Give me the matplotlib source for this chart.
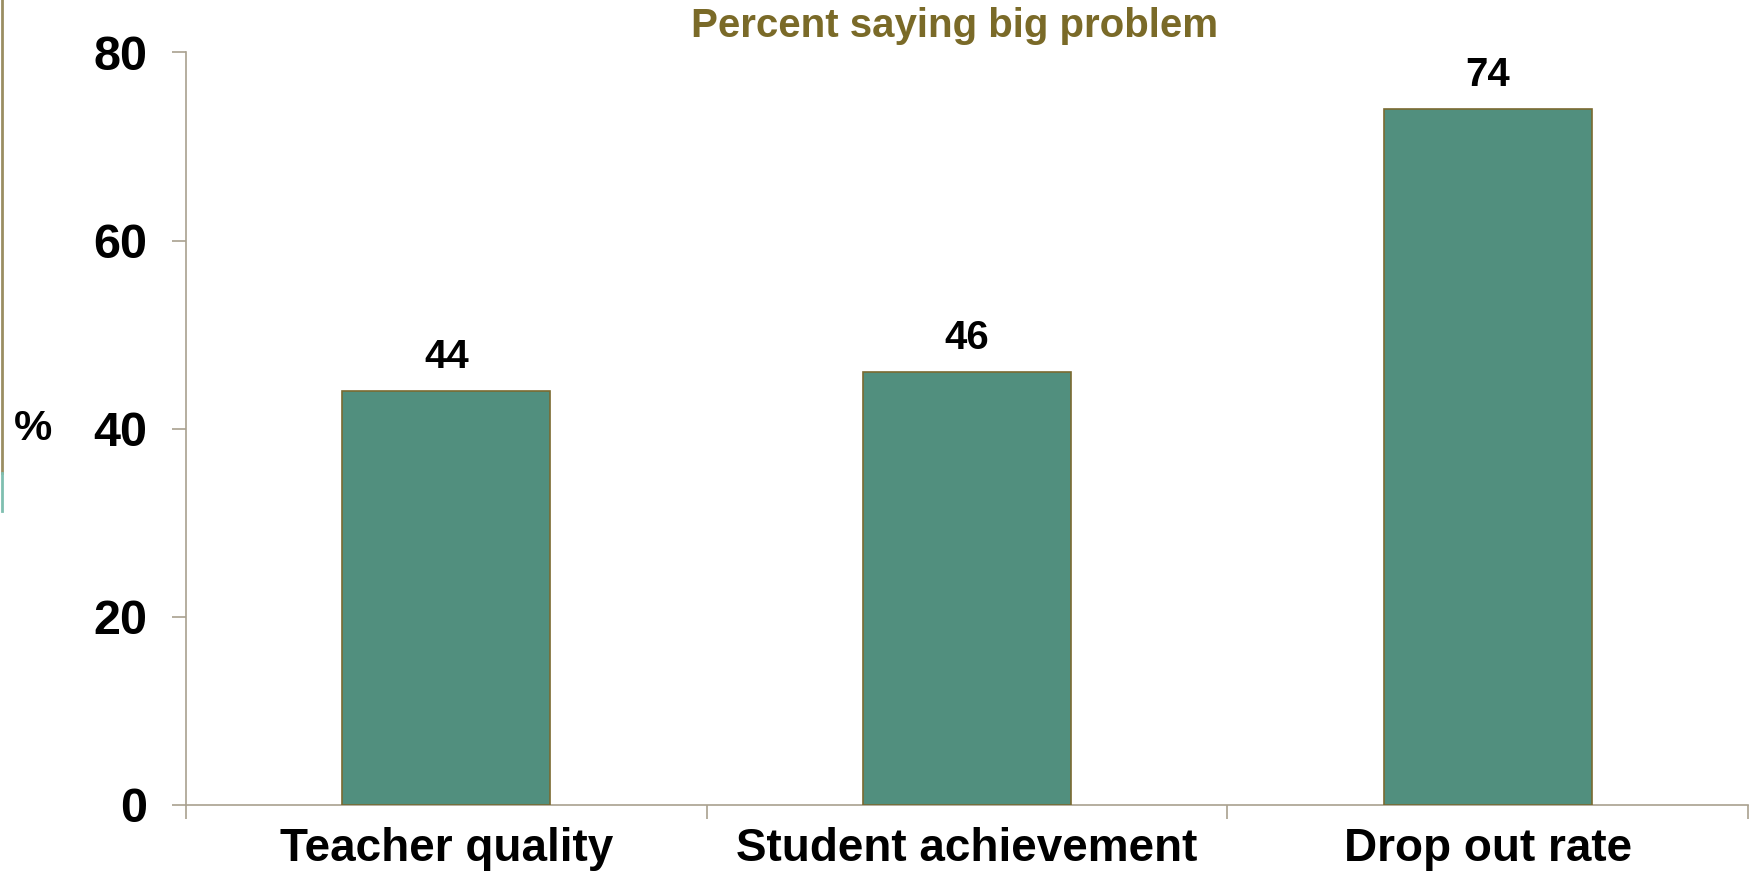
import matplotlib
matplotlib.use("Agg")
import matplotlib.pyplot as plt
from matplotlib.lines import Line2D

categories = ["Teacher quality", "Student achievement", "Drop out rate"]
values = [44, 46, 74]
yticks = [0, 20, 40, 60, 80]

BAR = "#518F7E"
EDGE = "#7A6A30"
AXIS = "#A9A18F"
OLIVE = "#7A6A28"

plt.rcParams["font.family"] = ["Liberation Sans", "DejaVu Sans"]

fig = plt.figure(figsize=(17.55, 8.73), dpi=100)
ax = fig.add_axes([0.106, 0.078, 0.890, 0.862])

x = list(range(len(categories)))
ax.bar(x, values, width=0.4, color=BAR, edgecolor=EDGE, linewidth=1.2, zorder=3)
for xi, v in zip(x, values):
    ax.text(xi, v + 1.6, str(v), ha="center", va="bottom", fontsize=29,
            fontweight="bold", color="black")

ax.set_xlim(-0.5, len(categories) - 0.5)
ax.set_ylim(0, 80)
ax.set_yticks(yticks)
ax.set_yticklabels([str(t) for t in yticks], fontsize=35, fontweight="bold")
ax.set_xticks(x)
ax.set_xticklabels(categories, fontsize=33, fontweight="bold")
ax.set_xticks([i - 0.5 for i in range(len(categories) + 1)], minor=True)
ax.tick_params(axis="x", which="major", length=0, pad=16)
ax.tick_params(axis="x", which="minor", length=10, width=1.2, color=AXIS)
ax.tick_params(axis="y", length=10, width=1.2, color=AXIS, pad=18)

for s in ["top", "right"]:
    ax.spines[s].set_visible(False)
for s in ["left", "bottom"]:
    ax.spines[s].set_color(AXIS)
    ax.spines[s].set_linewidth(1.2)

fig.text(0.544, 0.970, "Percent saying big problem", ha="center", va="center",
         fontsize=29, fontweight="bold", color=OLIVE)
fig.text(0.019, 0.509, "%", ha="center", va="center", fontsize=31,
         fontweight="bold", color="black")

# slide edge remnants on the far left
fig.add_artist(Line2D([0.001, 0.001], [1.0, 0.458], transform=fig.transFigure,
                      color="#9A8E62", linewidth=2))
fig.add_artist(Line2D([0.001, 0.001], [0.458, 0.415], transform=fig.transFigure,
                      color="#7FBFB0", linewidth=2))

fig.savefig("out.png", dpi=100)
